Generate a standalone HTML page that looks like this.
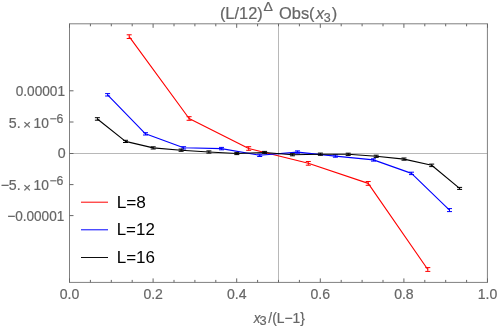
<!DOCTYPE html>
<html><head><meta charset="utf-8"><style>
html,body{margin:0;padding:0;background:#fff;}
svg{display:block;font-family:"Liberation Sans",sans-serif;will-change:transform;}
</style></head><body>
<svg width="498" height="329" viewBox="0 0 498 329">
<rect width="498" height="329" fill="#fff"/>
<path d="M69.5 153.5H487.5M278.5 23.8V282.4" stroke="#b8b8b8" stroke-width="1" fill="none"/>
<polyline fill="none" stroke="#ff0000" stroke-width="1.12" stroke-linejoin="round" points="129.2,36.6 189.1,118.5 248.7,148.5 308.3,163.3 368.2,183.4 427.8,269.5"/>
<path fill="none" stroke="#ff0000" stroke-width="1.0" d="M129.2 34.8V38.5M126.7 34.8h5M126.7 38.5h5M189.1 116.7V120.3M186.6 116.7h5M186.6 120.3h5M248.7 146.7V150.3M246.2 146.7h5M246.2 150.3h5M308.3 161.5V165.2M305.8 161.5h5M305.8 165.2h5M368.2 181.5V185.3M365.7 181.5h5M365.7 185.3h5M427.8 267.6V271.4M425.3 267.6h5M425.3 271.4h5"/>
<polyline fill="none" stroke="#0000ff" stroke-width="1.12" stroke-linejoin="round" points="107.6,94.8 145.5,133.8 183.6,147.8 221.5,148.6 259.7,155.3 297.5,152.1 335.4,156.1 373.5,159.9 411.5,173.4 449.5,210.1"/>
<path fill="none" stroke="#0000ff" stroke-width="1.0" d="M107.6 93.6V96.0M105.1 93.6h5M105.1 96.0h5M145.5 132.7V135.0M143.0 132.7h5M143.0 135.0h5M183.6 146.7V149.0M181.1 146.7h5M181.1 149.0h5M221.5 147.4V149.8M219.0 147.4h5M219.0 149.8h5M259.7 154.2V156.5M257.2 154.2h5M257.2 156.5h5M297.5 150.9V153.2M295.0 150.9h5M295.0 153.2h5M335.4 154.9V157.2M332.9 154.9h5M332.9 157.2h5M373.5 158.8V161.1M371.0 158.8h5M371.0 161.1h5M411.5 172.2V174.6M409.0 172.2h5M409.0 174.6h5M449.5 208.6V211.6M447.0 208.6h5M447.0 211.6h5"/>
<polyline fill="none" stroke="#000000" stroke-width="1.12" stroke-linejoin="round" points="97.4,119.0 125.5,141.4 153.2,147.9 181.1,150.2 208.9,152.0 236.8,153.5 264.6,152.5 292.4,154.8 320.4,154.2 348.2,154.3 376.2,156.3 404.0,159.1 431.7,165.3 459.6,188.4"/>
<path fill="none" stroke="#000000" stroke-width="1.0" d="M97.4 117.7V120.2M94.9 117.7h5M94.9 120.2h5M125.5 140.3V142.5M123.0 140.3h5M123.0 142.5h5M153.2 146.8V149.0M150.7 146.8h5M150.7 149.0h5M181.1 149.1V151.3M178.6 149.1h5M178.6 151.3h5M208.9 150.9V153.1M206.4 150.9h5M206.4 153.1h5M236.8 152.4V154.6M234.3 152.4h5M234.3 154.6h5M264.6 151.4V153.6M262.1 151.4h5M262.1 153.6h5M292.4 153.7V155.8M289.9 153.7h5M289.9 155.8h5M320.4 153.1V155.3M317.9 153.1h5M317.9 155.3h5M348.2 153.2V155.4M345.7 153.2h5M345.7 155.4h5M376.2 155.2V157.4M373.7 155.2h5M373.7 157.4h5M404.0 158.0V160.2M401.5 158.0h5M401.5 160.2h5M431.7 164.1V166.6M429.2 164.1h5M429.2 166.6h5M459.6 187.4V189.4M457.1 187.4h5M457.1 189.4h5"/>

<rect x="69.5" y="23.8" width="417.9" height="258.6" fill="none" stroke="#808080" stroke-width="1"/>
<path d="M69.5 282.4v-4.0M69.5 23.8v4.0M90.4 282.4v-2.5M90.4 23.8v2.5M111.3 282.4v-2.5M111.3 23.8v2.5M132.2 282.4v-2.5M132.2 23.8v2.5M153.1 282.4v-4.0M153.1 23.8v4.0M174.0 282.4v-2.5M174.0 23.8v2.5M194.9 282.4v-2.5M194.9 23.8v2.5M215.8 282.4v-2.5M215.8 23.8v2.5M236.7 282.4v-4.0M236.7 23.8v4.0M257.6 282.4v-2.5M257.6 23.8v2.5M278.5 282.4v-2.5M278.5 23.8v2.5M299.4 282.4v-2.5M299.4 23.8v2.5M320.3 282.4v-4.0M320.3 23.8v4.0M341.2 282.4v-2.5M341.2 23.8v2.5M362.1 282.4v-2.5M362.1 23.8v2.5M383.0 282.4v-2.5M383.0 23.8v2.5M403.9 282.4v-4.0M403.9 23.8v4.0M424.8 282.4v-2.5M424.8 23.8v2.5M445.7 282.4v-2.5M445.7 23.8v2.5M466.6 282.4v-2.5M466.6 23.8v2.5M487.5 282.4v-4.0M487.5 23.8v4.0M69.5 90.8h4M69.5 122.0h4M69.5 153.5h4M69.5 184.6h4M69.5 215.6h4" stroke="#666" stroke-width="1" fill="none"/>
<g fill="#666" stroke="#666" stroke-width="0.2">
<text transform="translate(69.55 299.40) scale(0.990 1)" font-size="14.20" text-anchor="middle">0.0</text>
<text transform="translate(153.14 299.40) scale(0.990 1)" font-size="14.20" text-anchor="middle">0.2</text>
<text transform="translate(236.73 299.40) scale(0.990 1)" font-size="14.20" text-anchor="middle">0.4</text>
<text transform="translate(320.32 299.40) scale(0.990 1)" font-size="14.20" text-anchor="middle">0.6</text>
<text transform="translate(403.91 299.40) scale(0.990 1)" font-size="14.20" text-anchor="middle">0.8</text>
<text transform="translate(487.50 299.40) scale(0.990 1)" font-size="14.20" text-anchor="middle">1.0</text>
<text transform="translate(65.00 95.90) scale(0.962 1)" font-size="14.20" text-anchor="end">0.00001</text>
<text x="65.70" y="158.30" font-size="14.20" text-anchor="end">0</text>
<text transform="translate(64.30 221.20) scale(0.958 1)" font-size="14.20" text-anchor="end">−0.00001</text>
<text x="8.85" y="128.00" font-size="14.20">5.</text>
<text x="23.20" y="129.30" font-size="13.20">×</text>
<text transform="translate(33.50 128.00) scale(0.970 1)" font-size="14.20">10</text>
<text x="49.45" y="122.55" font-size="12.30">−6</text>
<text x="8.85" y="190.40" font-size="14.20">5.</text>
<text x="0.70" y="190.40" font-size="14.20">−</text>
<text x="23.20" y="191.70" font-size="13.20">×</text>
<text transform="translate(33.50 190.40) scale(0.970 1)" font-size="14.20">10</text>
<text x="49.45" y="184.95" font-size="12.30">−6</text>
<text transform="translate(253.70 322.50) scale(0.930 1)" font-size="14.20" font-style="italic">x</text>
<text x="259.40" y="325.40" font-size="12.80">3</text>
<text transform="translate(268.30 322.50) scale(0.975 1)" font-size="14.20">/(L−1}</text>
<text transform="translate(219.90 18.50) scale(1.042 1)" font-size="15.75">(L/12)</text>
<text transform="translate(263.40 10.50) scale(1.080 1)" font-size="13.00">Δ</text>
<text transform="translate(279.00 18.50) scale(1.042 1)" font-size="15.75">Obs(</text>
<text transform="translate(316.00 18.50) scale(1.030 1)" font-size="15.75" font-style="italic">x</text>
<text x="323.80" y="22.00" font-size="12.50">3</text>
<text transform="translate(331.70 18.50) scale(1.042 1)" font-size="15.75">)</text>
</g>
<g stroke-width="1">
<path d="M81 202.2H108" stroke="#f00"/>
<path d="M81 229.8H108" stroke="#00f"/>
<path d="M81 257.5H108" stroke="#000" stroke-width="0.95"/>
</g>
<g fill="#000">
<text transform="translate(116.70 208.00) scale(1.040 1)" font-size="16.60">L=8</text>
<text transform="translate(116.70 235.20) scale(1.020 1)" font-size="16.60">L=12</text>
<text transform="translate(116.70 263.40) scale(1.027 1)" font-size="16.60">L=16</text>
</g>
</svg>
</body></html>
